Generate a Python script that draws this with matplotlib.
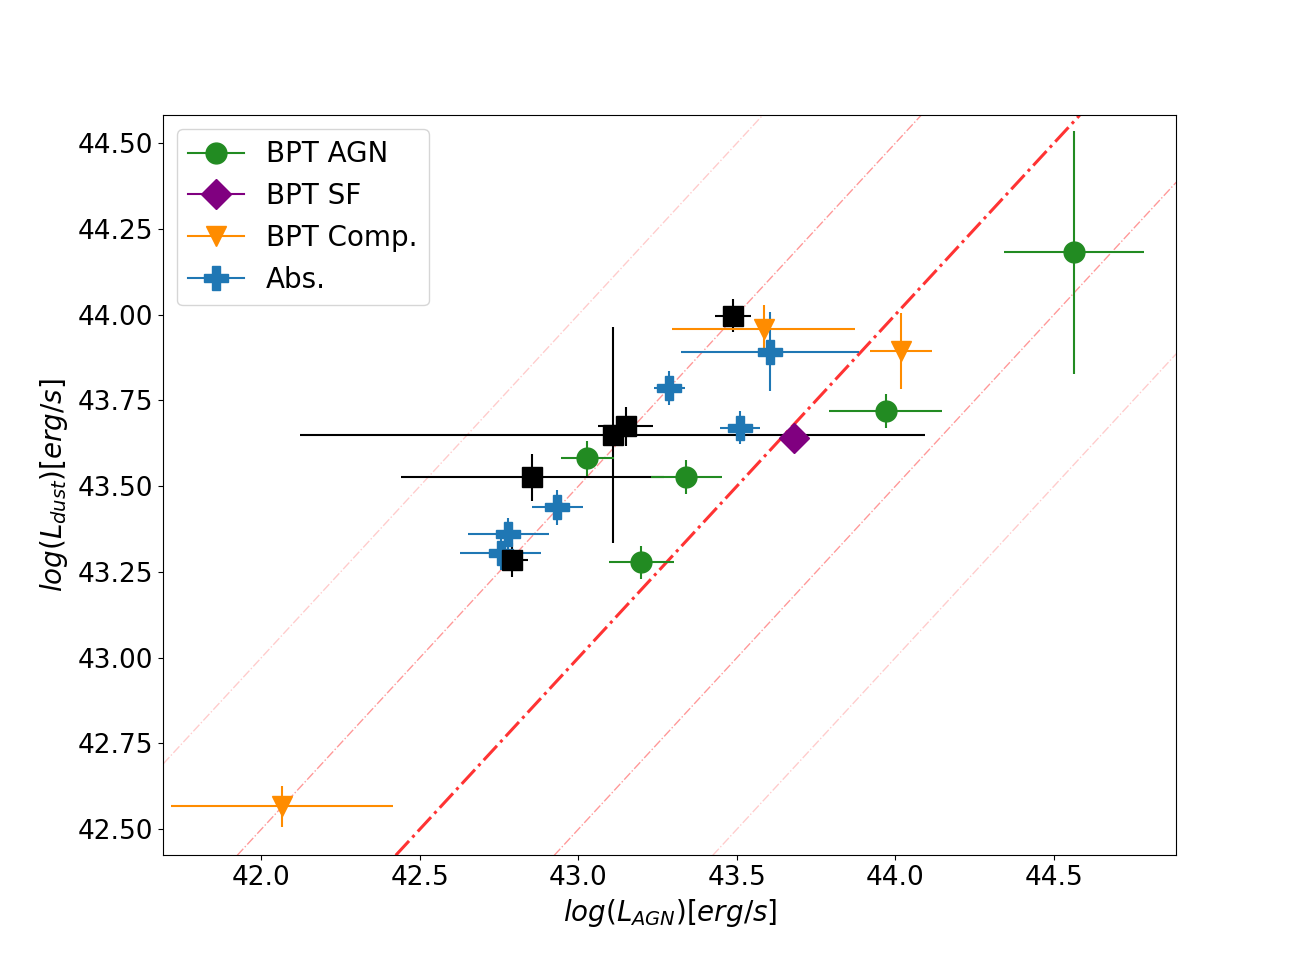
import numpy as np
import matplotlib
matplotlib.use("Agg")
import matplotlib.pyplot as plt
from matplotlib.lines import Line2D

# BPT AGN
agn_x = [44.563, 43.970, 43.340, 43.028, 43.199]
agn_y = [44.182, 43.719, 43.527, 43.581, 43.278]
agn_xerr = [0.220, 0.178, 0.112, 0.083, 0.102]
agn_yerr = [0.354, 0.049, 0.049, 0.050, 0.049]

# BPT SF
sf_x = [43.680]
sf_y = [43.640]
sf_xerr = [0.04]
sf_yerr = [0.04]

# BPT composite
comp_x = [42.065, 43.584, 44.017]
comp_y = [42.567, 43.959, 43.895]
comp_xerr = [0.350, 0.290, 0.098]
comp_yerr = [0.060, 0.070, 0.111]

# absorbed
abs_x = [43.604, 43.510, 43.286, 42.934, 42.779, 42.755]
abs_y = [43.892, 43.671, 43.787, 43.438, 43.361, 43.306]
abs_xerr = [0.280, 0.062, 0.049, 0.080, 0.127, 0.128]
abs_yerr = [0.115, 0.049, 0.050, 0.050, 0.047, 0.050]

# unclassified (black squares, not in legend)
unc_x = [43.488, 43.149, 43.108, 42.855, 42.792]
unc_y = [43.997, 43.675, 43.650, 43.526, 43.285]
unc_xerr = [0.058, 0.086, 0.985, 0.415, 0.048]
unc_yerr = [0.048, 0.057, 0.315, 0.069, 0.049]

# offsets of the y = x + c reference lines
offsets = [-1.0, -0.5, 0.0, 0.5, 1.0]

fig, ax = plt.subplots(figsize=(13.07, 9.61), dpi=100)

for c in offsets:
    if c == 0:
        ax.axline((42, 42 + c), slope=1, color="red", alpha=0.8, lw=2.2, ls="-.")
    elif abs(c) == 0.5:
        ax.axline((42, 42 + c), slope=1, color="red", alpha=0.4, lw=1, ls="-.")
    else:
        ax.axline((42, 42 + c), slope=1, color="red", alpha=0.2, lw=1, ls="-.")

ms = 15
ax.errorbar(abs_x, abs_y, xerr=abs_xerr, yerr=abs_yerr, fmt="P", color="tab:blue", ms=17)
ax.errorbar(unc_x, unc_y, xerr=unc_xerr, yerr=unc_yerr, fmt="s", color="black", ms=ms)
ax.errorbar(agn_x, agn_y, xerr=agn_xerr, yerr=agn_yerr, fmt="o", color="forestgreen", ms=ms)
ax.errorbar(sf_x, sf_y, xerr=sf_xerr, yerr=sf_yerr, fmt="D", color="purple", ms=ms)
ax.errorbar(comp_x, comp_y, xerr=comp_xerr, yerr=comp_yerr, fmt="v", color="darkorange", ms=ms)

handles = [
    Line2D([], [], color="forestgreen", marker="o", ms=ms, label="BPT AGN"),
    Line2D([], [], color="purple", marker="D", ms=ms, label="BPT SF"),
    Line2D([], [], color="darkorange", marker="v", ms=ms, label="BPT Comp."),
    Line2D([], [], color="tab:blue", marker="P", ms=17, label="Abs."),
]
ax.legend(handles=handles, loc="upper left", fontsize=20, labelspacing=0.5)

ax.set_xlim(41.691, 44.886)
ax.set_ylim(42.424, 44.581)
ax.set_xlabel(r"$log(L_{AGN})[erg/s]$", fontsize=20)
ax.set_ylabel(r"$log(L_{dust})[erg/s]$", fontsize=20, labelpad=6)
ax.tick_params(labelsize=19)

fig.savefig("out.png", dpi=100)
